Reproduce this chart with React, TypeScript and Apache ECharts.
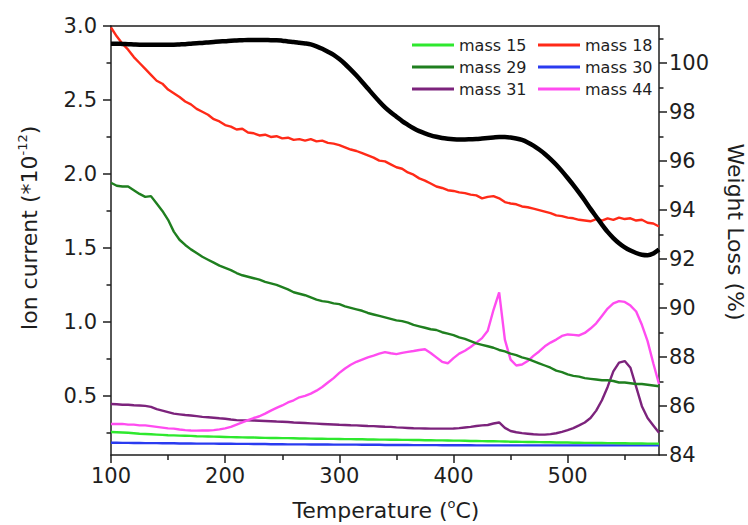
import React, { useEffect, useRef } from 'react';
import * as echarts from 'echarts';

const FONT = 'DejaVu Sans';
const INK = '#1e1e1e';

// Temperature (°C)
const temps = [
  100, 105, 110, 115, 120, 125, 130, 135, 140, 145,
  150, 155, 160, 165, 170, 175, 180, 185, 190, 195,
  200, 205, 210, 215, 220, 225, 230, 235, 240, 245,
  250, 255, 260, 265, 270, 275, 280, 285, 290, 295,
  300, 305, 310, 315, 320, 325, 330, 335, 340, 345,
  350, 355, 360, 365, 370, 375, 380, 385, 390, 395,
  400, 405, 410, 415, 420, 425, 430, 435, 440, 445,
  450, 455, 460, 465, 470, 475, 480, 485, 490, 495,
  500, 505, 510, 515, 520, 525, 530, 535, 540, 545,
  550, 555, 560, 565, 570, 575, 580,
];

// Weight loss (%) - right axis
const weightLoss = [
  100.78, 100.78, 100.77, 100.76, 100.75, 100.74, 100.74, 100.74, 100.74, 100.74,
  100.74, 100.74, 100.75, 100.76, 100.78, 100.80, 100.81, 100.83, 100.85, 100.87,
  100.88, 100.90, 100.91, 100.92, 100.93, 100.93, 100.93, 100.93, 100.92, 100.92,
  100.90, 100.87, 100.85, 100.82, 100.79, 100.75, 100.67, 100.57, 100.45, 100.32,
  100.15, 99.95, 99.72, 99.48, 99.22, 98.95, 98.68, 98.42, 98.18, 97.98,
  97.80, 97.62, 97.47, 97.33, 97.21, 97.12, 97.04, 96.98, 96.93, 96.90,
  96.88, 96.87, 96.87, 96.88, 96.89, 96.91, 96.93, 96.95, 96.97, 96.97,
  96.95, 96.91, 96.85, 96.75, 96.62, 96.46, 96.28, 96.07, 95.84, 95.58,
  95.30, 95.01, 94.70, 94.38, 94.04, 93.72, 93.40, 93.10, 92.85, 92.64,
  92.47, 92.34, 92.24, 92.17, 92.15, 92.22, 92.38,
];

// Ion currents (*10^-12) - left axis
const mass18 = [
  2.99, 2.93, 2.88, 2.84, 2.79, 2.75, 2.71, 2.67, 2.63, 2.61,
  2.57, 2.545, 2.52, 2.49, 2.47, 2.44, 2.42, 2.40, 2.37, 2.355,
  2.33, 2.32, 2.30, 2.305, 2.28, 2.275, 2.26, 2.265, 2.25, 2.255,
  2.24, 2.245, 2.23, 2.235, 2.225, 2.235, 2.22, 2.225, 2.21, 2.205,
  2.195, 2.18, 2.165, 2.155, 2.14, 2.125, 2.11, 2.09, 2.085, 2.065,
  2.045, 2.035, 2.01, 1.995, 1.97, 1.955, 1.935, 1.915, 1.905, 1.89,
  1.885, 1.875, 1.87, 1.86, 1.855, 1.835, 1.845, 1.85, 1.835, 1.81,
  1.80, 1.795, 1.78, 1.775, 1.765, 1.755, 1.745, 1.735, 1.72, 1.715,
  1.705, 1.70, 1.69, 1.685, 1.68, 1.695, 1.685, 1.70, 1.69, 1.705,
  1.695, 1.70, 1.685, 1.69, 1.67, 1.665, 1.645,
];

const mass29 = [
  1.94, 1.92, 1.915, 1.915, 1.89, 1.865, 1.845, 1.85, 1.80, 1.75,
  1.69, 1.61, 1.555, 1.52, 1.49, 1.465, 1.44, 1.42, 1.40, 1.38,
  1.365, 1.35, 1.33, 1.315, 1.305, 1.295, 1.285, 1.27, 1.26, 1.25,
  1.235, 1.22, 1.20, 1.19, 1.18, 1.165, 1.15, 1.14, 1.135, 1.125,
  1.12, 1.105, 1.095, 1.085, 1.075, 1.06, 1.05, 1.04, 1.03, 1.02,
  1.01, 1.005, 0.995, 0.98, 0.97, 0.96, 0.95, 0.945, 0.93, 0.92,
  0.91, 0.895, 0.885, 0.87, 0.855, 0.845, 0.835, 0.825, 0.81, 0.80,
  0.785, 0.775, 0.76, 0.75, 0.735, 0.72, 0.705, 0.69, 0.67, 0.66,
  0.645, 0.635, 0.63, 0.62, 0.615, 0.61, 0.605, 0.605, 0.60, 0.59,
  0.59, 0.585, 0.58, 0.58, 0.575, 0.57, 0.565,
];

const mass44 = [
  0.31, 0.31, 0.31, 0.305, 0.305, 0.30, 0.30, 0.295, 0.29, 0.285,
  0.28, 0.278, 0.272, 0.268, 0.266, 0.265, 0.266, 0.266, 0.268, 0.273,
  0.28, 0.29, 0.305, 0.32, 0.335, 0.35, 0.362, 0.38, 0.40, 0.418,
  0.435, 0.455, 0.47, 0.49, 0.50, 0.515, 0.535, 0.56, 0.59, 0.62,
  0.655, 0.685, 0.71, 0.73, 0.745, 0.76, 0.772, 0.785, 0.795, 0.788,
  0.782, 0.79, 0.797, 0.803, 0.81, 0.815, 0.79, 0.76, 0.73, 0.72,
  0.755, 0.785, 0.805, 0.83, 0.86, 0.89, 0.94, 1.08, 1.20, 0.88,
  0.745, 0.705, 0.712, 0.735, 0.77, 0.80, 0.835, 0.86, 0.88, 0.905,
  0.915, 0.912, 0.908, 0.925, 0.955, 0.99, 1.04, 1.09, 1.125, 1.14,
  1.135, 1.11, 1.07, 0.98, 0.87, 0.72, 0.58,
];

const mass31 = [
  0.445, 0.443, 0.44, 0.44, 0.436, 0.435, 0.432, 0.425, 0.41, 0.40,
  0.39, 0.38, 0.375, 0.37, 0.367, 0.363, 0.358, 0.355, 0.352, 0.348,
  0.345, 0.34, 0.336, 0.334, 0.334, 0.333, 0.332, 0.33, 0.328, 0.326,
  0.325, 0.323, 0.32, 0.318, 0.316, 0.314, 0.312, 0.31, 0.308, 0.306,
  0.304, 0.303, 0.301, 0.30, 0.298, 0.296, 0.295, 0.293, 0.291, 0.29,
  0.287, 0.285, 0.283, 0.281, 0.28, 0.279, 0.278, 0.278, 0.278, 0.278,
  0.279, 0.282, 0.286, 0.29, 0.296, 0.30, 0.303, 0.313, 0.32, 0.283,
  0.262, 0.254, 0.248, 0.244, 0.24, 0.238, 0.238, 0.241, 0.247, 0.256,
  0.268, 0.282, 0.30, 0.32, 0.35, 0.40, 0.47, 0.56, 0.665, 0.725,
  0.735, 0.69, 0.56, 0.43, 0.35, 0.30, 0.25,
];

const mass15 = [
  0.255, 0.254, 0.252, 0.25, 0.247, 0.244, 0.242, 0.24, 0.238, 0.236,
  0.234, 0.233, 0.231, 0.23, 0.229, 0.227, 0.226, 0.225, 0.224, 0.223,
  0.222, 0.221, 0.22, 0.219, 0.218, 0.218, 0.217, 0.216, 0.215, 0.215,
  0.214, 0.214, 0.213, 0.212, 0.212, 0.211, 0.21, 0.21, 0.209, 0.209,
  0.208, 0.207, 0.207, 0.206, 0.206, 0.205, 0.205, 0.204, 0.204, 0.203,
  0.203, 0.202, 0.202, 0.201, 0.201, 0.2, 0.2, 0.199, 0.199, 0.198,
  0.197, 0.197, 0.196, 0.195, 0.195, 0.194, 0.193, 0.193, 0.192, 0.191,
  0.19, 0.19, 0.189, 0.188, 0.188, 0.187, 0.186, 0.186, 0.185, 0.184,
  0.184, 0.183, 0.183, 0.182, 0.182, 0.181, 0.181, 0.18, 0.18, 0.179,
  0.179, 0.178, 0.178, 0.178, 0.177, 0.177, 0.177,
];

const mass30 = [
  0.183, 0.183, 0.182, 0.182, 0.181, 0.181, 0.18, 0.18, 0.18, 0.179,
  0.179, 0.179, 0.178, 0.178, 0.178, 0.177, 0.177, 0.177, 0.177, 0.176,
  0.176, 0.176, 0.175, 0.175, 0.175, 0.174, 0.174, 0.174, 0.173, 0.173,
  0.173, 0.172, 0.172, 0.172, 0.172, 0.171, 0.171, 0.171, 0.171, 0.17,
  0.17, 0.17, 0.17, 0.17, 0.169, 0.169, 0.169, 0.169, 0.168, 0.168,
  0.168, 0.168, 0.168, 0.167, 0.167, 0.167, 0.167, 0.167, 0.166, 0.166,
  0.166, 0.166, 0.166, 0.166, 0.165, 0.165, 0.165, 0.165, 0.165, 0.165,
  0.165, 0.165, 0.165, 0.165, 0.165, 0.165, 0.165, 0.165, 0.165, 0.165,
  0.165, 0.165, 0.165, 0.165, 0.165, 0.165, 0.165, 0.165, 0.165, 0.165,
  0.165, 0.165, 0.165, 0.165, 0.165, 0.165, 0.165,
];

// Tick positions
const xMajor = [100, 200, 300, 400, 500];
const xMinor = [150, 250, 350, 450, 550];
const leftMajor = [0.5, 1.0, 1.5, 2.0, 2.5, 3.0];
const leftMinor = [0.25, 0.75, 1.25, 1.75, 2.25, 2.75];
const rightMajor = [84, 86, 88, 90, 92, 94, 96, 98, 100];
const rightMinor = [85, 87, 89, 91, 93, 95, 97, 99, 101];

const ionSeries = [
  { name: 'mass 30', values: mass30, color: '#2a3bf0' },
  { name: 'mass 15', values: mass15, color: '#2ee82e' },
  { name: 'mass 31', values: mass31, color: '#7c237c' },
  { name: 'mass 44', values: mass44, color: '#ff4cf0' },
  { name: 'mass 29', values: mass29, color: '#1f7f1f' },
  { name: 'mass 18', values: mass18, color: '#ff2a18' },
];

const axisLineStyle = { color: INK, width: 1.5 };
const labelStyle = { fontFamily: FONT, fontSize: 21, color: INK };

export default function App() {
  const ref = useRef<HTMLDivElement>(null);

  useEffect(() => {
    if (!ref.current) return;
    const chart = echarts.init(ref.current, null, { renderer: 'svg' });

    const series: any[] = ionSeries.map((s) => ({
      name: s.name,
      type: 'line',
      xAxisIndex: 0,
      yAxisIndex: 0,
      symbol: 'none',
      showSymbol: false,
      silent: true,
      lineStyle: { color: s.color, width: 2.4 },
      itemStyle: { color: s.color },
      data: temps.map((t, i) => [t, s.values[i]]),
    }));
    series.push({
      name: 'weight',
      type: 'line',
      xAxisIndex: 0,
      yAxisIndex: 1,
      symbol: 'none',
      showSymbol: false,
      silent: true,
      smooth: 0.3,
      lineStyle: { color: '#000', width: 4.5 },
      itemStyle: { color: '#000' },
      data: temps.map((t, i) => [t, weightLoss[i]]),
    });

    const legendCommon = {
      orient: 'vertical',
      top: 32,
      itemWidth: 42,
      itemHeight: 3,
      itemGap: 6,
      icon: 'rect',
      selectedMode: false,
      textStyle: { fontFamily: FONT, fontSize: 16, color: INK, lineHeight: 16 },
    };

    const titleRich = (size: number) => ({
      a: { fontFamily: FONT, fontSize: size, fill: INK, color: INK, lineHeight: 26 },
      s: { fontFamily: FONT, fontSize: 13, fill: INK, color: INK, lineHeight: 14, verticalAlign: 'top' },
    });

    chart.setOption({
      animation: false,
      backgroundColor: '#ffffff',
      textStyle: { fontFamily: FONT },
      grid: { left: 111, right: 89, top: 26, bottom: 70, containLabel: false, outerBoundsMode: 'none' },
      legend: [
        { ...legendCommon, left: 407, data: ['mass 15', 'mass 29', 'mass 31'] },
        { ...legendCommon, left: 533, data: ['mass 18', 'mass 30', 'mass 44'] },
      ],
      xAxis: [
        {
          type: 'value', position: 'bottom', min: 100, max: 580,
          axisLine: { show: true, onZero: false, lineStyle: axisLineStyle },
          axisTick: { show: true, inside: false, length: 8, customValues: xMajor, lineStyle: axisLineStyle },
          axisLabel: { ...labelStyle, customValues: xMajor, margin: 10 },
          splitLine: { show: false },
        },
        {
          type: 'value', position: 'bottom', min: 100, max: 580,
          axisLine: { show: false, onZero: false },
          axisTick: { show: true, inside: false, length: 5, customValues: xMinor, lineStyle: axisLineStyle },
          axisLabel: { show: false },
          splitLine: { show: false },
        },
        {
          type: 'value', position: 'top', min: 100, max: 580,
          axisLine: { show: true, onZero: false, lineStyle: axisLineStyle },
          axisTick: { show: false },
          axisLabel: { show: false },
          splitLine: { show: false },
        },
      ],
      yAxis: [
        {
          type: 'value', position: 'left', min: 0.1, max: 3.0,
          axisLine: { show: true, onZero: false, lineStyle: axisLineStyle },
          axisTick: { show: true, inside: false, length: 8, customValues: leftMajor, lineStyle: axisLineStyle },
          axisLabel: { ...labelStyle, customValues: leftMajor, margin: 14, formatter: (v: number) => v.toFixed(1) },
          splitLine: { show: false },
        },
        {
          type: 'value', position: 'right', min: 84, max: 101.5,
          axisLine: { show: true, onZero: false, lineStyle: axisLineStyle },
          axisTick: { show: true, inside: false, length: 8, customValues: rightMajor, lineStyle: axisLineStyle },
          axisLabel: { ...labelStyle, customValues: rightMajor, margin: 10 },
          splitLine: { show: false },
        },
        {
          type: 'value', position: 'left', min: 0.1, max: 3.0,
          axisLine: { show: false, onZero: false },
          axisTick: { show: true, inside: false, length: 4.5, customValues: leftMinor, lineStyle: axisLineStyle },
          axisLabel: { show: false },
          splitLine: { show: false },
        },
        {
          type: 'value', position: 'right', min: 84, max: 101.5,
          axisLine: { show: false, onZero: false },
          axisTick: { show: true, inside: false, length: 4.5, customValues: rightMinor, lineStyle: axisLineStyle },
          axisLabel: { show: false },
          splitLine: { show: false },
        },
      ],
      graphic: [
        {
          type: 'text', x: 386, y: 510, silent: true,
          style: {
            text: '{a|Temperature (}{s|o}{a|C)}',
            rich: titleRich(22),
            align: 'center', verticalAlign: 'middle', textAlign: 'center', textVerticalAlign: 'middle',
          },
        },
        {
          type: 'text', x: 29, y: 228, rotation: Math.PI / 2, silent: true,
          style: {
            text: '{a|Ion current (*10}{s|-12}{a|)}',
            rich: titleRich(22),
            align: 'center', verticalAlign: 'middle', textAlign: 'center', textVerticalAlign: 'middle',
          },
        },
        {
          type: 'text', x: 735, y: 232, rotation: -Math.PI / 2, silent: true,
          style: {
            text: '{a|Weight Loss (%)}',
            rich: titleRich(22),
            align: 'center', verticalAlign: 'middle', textAlign: 'center', textVerticalAlign: 'middle',
          },
        },
      ],
      series,
    });

    return () => chart.dispose();
  }, []);

  return (
    <div
      ref={ref}
      style={{ position: 'absolute', left: 0, top: 0, width: 748, height: 525, background: '#fff' }}
    />
  );
}
